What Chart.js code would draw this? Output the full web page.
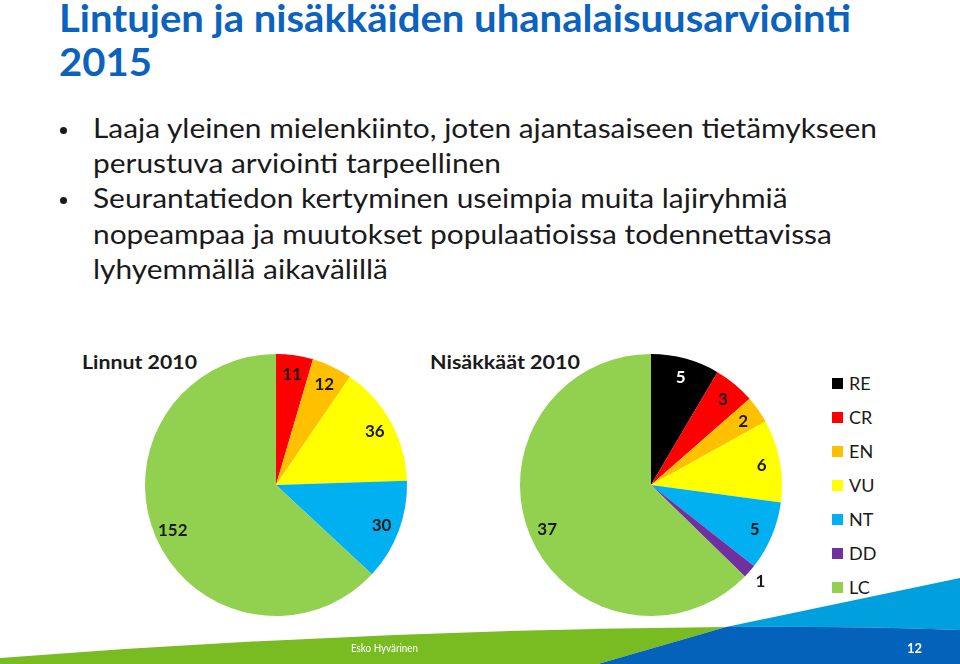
<!DOCTYPE html>
<html lang="fi">
<head>
<meta charset="utf-8">
<title>Lintujen ja nisäkkäiden uhanalaisuusarviointi 2015</title>
<script src="https://cdn.jsdelivr.net/npm/chart.js@4.4.1/dist/chart.umd.min.js"></script>
<style>
  html, body { margin: 0; padding: 0; background: #ffffff; }
  body { width: 960px; height: 664px; position: relative; overflow: hidden; font-family: Lato, "Open Sans", sans-serif; }
  .abs { position: absolute; white-space: nowrap; line-height: 1; }
  .fit { display: inline-block; transform-origin: 0 0; }
  .title { color: #0b63bd; font-weight: 700; font-size: 38px; left: 59px; }
  .bullet-line { color: #1a1a1a; font-size: 27px; left: 93px; }
  .dot { position: absolute; width: 7px; height: 7px; border-radius: 50%; background: #1a1a1a; left: 60px; }
  .pie-title { color: #1a1a1a; font-weight: 700; font-size: 18px; top: 353px; }
  canvas { position: absolute; z-index: 2; }
  #footer { position: absolute; left: 0; top: 0; z-index: 1; }
  #legend { position: absolute; left: 832px; top: 366px; z-index: 3; }
  .leg-row { height: 34px; display: flex; align-items: center; font-size: 18px; color: #1a1a1a; }
  .leg-box { width: 11px; height: 11px; margin-right: 6px; }
  .foot-text { color: #ffffff; z-index: 3; }
</style>
</head>
<body>

<svg id="footer" width="960" height="664" viewBox="0 0 960 664">
  <path d="M0,658 Q360,630 726,627 L598,664 L0,664 Z" fill="#79bc22"/>
  <path d="M726,627 L960,578 L960,630 Q850,626 726,627 Z" fill="#00a0df"/>
  <path d="M598,664 L726,627 Q850,626 960,630 L960,664 Z" fill="#0562bb"/>
</svg>

<div class="abs title" style="top:-2px"><span class="fit" id="t1">Lintujen ja nisäkkäiden uhanalaisuusarviointi</span></div>
<div class="abs title" style="top:42px"><span class="fit" id="t2">2015</span></div>

<div class="dot" style="top:127px"></div>
<div class="dot" style="top:197px"></div>
<div class="abs bullet-line" style="top:114px"><span class="fit bl">Laaja yleinen mielenkiinto, joten ajantasaiseen tietämykseen</span></div>
<div class="abs bullet-line" style="top:149px"><span class="fit bl">perustuva arviointi tarpeellinen</span></div>
<div class="abs bullet-line" style="top:184px"><span class="fit bl">Seurantatiedon kertyminen useimpia muita lajiryhmiä</span></div>
<div class="abs bullet-line" style="top:220px"><span class="fit bl">nopeampaa ja muutokset populaatioissa todennettavissa</span></div>
<div class="abs bullet-line" style="top:255px"><span class="fit bl">lyhyemmällä aikavälillä</span></div>

<div class="abs pie-title" style="left:82px"><span class="fit" id="pt1"></span></div>
<div class="abs pie-title" style="left:430px"><span class="fit" id="pt2"></span></div>

<canvas id="linnutChart" width="340" height="340" style="left:106px; top:315px"></canvas>
<canvas id="nisakkaatChart" width="340" height="340" style="left:481px; top:315px"></canvas>

<div id="legend"></div>

<div class="abs foot-text" style="left:351px; top:642px; font-size:12px"><span class="fit" id="author">Esko Hyvärinen</span></div>
<div class="abs foot-text" style="left:907px; top:642px; font-size:13px; font-weight:700">12</div>

<script>
// luokat ja värit (IUCN)
const luokat = ['RE', 'CR', 'EN', 'VU', 'NT', 'DD', 'LC'];
const varit  = ['#000000', '#ff0000', '#ffc000', '#ffff00', '#00b0f0', '#7030a0', '#92d050'];

// lajimäärät 2010
const linnut    = [0, 11, 12, 36, 30, 0, 152];
const nisakkaat = [5, 3, 2, 6, 5, 1, 37];

const otsikot = ['Linnut 2010', 'Nisäkkäät 2010'];

function fitWidth(el, target) {
    const w = el.getBoundingClientRect().width;
    if (w > 0) el.style.transform = 'scaleX(' + (target / w) + ')';
    return target / w;
}

document.getElementById('pt1').textContent = otsikot[0];
document.getElementById('pt2').textContent = otsikot[1];

// sovita tekstit leveyteen (Calibri korvataan Latolla)
const titleScale = fitWidth(document.getElementById('t1'), 792);
document.getElementById('t2').style.transform = 'scaleX(' + titleScale + ')';
const bl = document.querySelectorAll('.bl');
const bulletScale = fitWidth(bl[0], 784);
bl.forEach(function (el, i) { if (i > 0) el.style.transform = 'scaleX(' + bulletScale + ')'; });
fitWidth(document.getElementById('pt1'), 115);
fitWidth(document.getElementById('pt2'), 150);
fitWidth(document.getElementById('author'), 67);

// selite
const legend = document.getElementById('legend');
luokat.forEach(function (l, i) {
    const row = document.createElement('div');
    row.className = 'leg-row';
    const box = document.createElement('span');
    box.className = 'leg-box';
    box.style.background = varit[i];
    const txt = document.createElement('span');
    txt.textContent = l;
    row.appendChild(box);
    row.appendChild(txt);
    legend.appendChild(row);
});

// arvot sektorien päälle, pienet ulkopuolelle
const sliceLabels = {
    id: 'sliceLabels',
    afterDatasetsDraw(chart) {
        const ctx = chart.ctx;
        const ds = chart.data.datasets[0];
        const meta = chart.getDatasetMeta(0);
        const total = ds.data.reduce(function (a, b) { return a + b; }, 0);
        ctx.save();
        ctx.font = 'bold 17px Lato';
        ctx.textAlign = 'center';
        ctx.textBaseline = 'middle';
        meta.data.forEach(function (arc, i) {
            const v = ds.data[i];
            if (!v) return;
            const p = arc.getProps(['x', 'y', 'startAngle', 'endAngle', 'outerRadius'], true);
            const mid = (p.startAngle + p.endAngle) / 2;
            const r = (v / total < 0.03) ? p.outerRadius * 1.11 : p.outerRadius * 0.86;
            ctx.fillStyle = ds.backgroundColor[i] === '#000000' ? '#ffffff' : '#1a1a1a';
            ctx.fillText(String(v), p.x + Math.cos(mid) * r, p.y + Math.sin(mid) * r + 1);
        });
        ctx.restore();
    }
};

function teePiirakka(id, arvot) {
    const ctx = document.getElementById(id).getContext('2d');
    return new Chart(ctx, {
        type: 'pie',
        data: {
            labels: luokat,
            datasets: [{
                data: arvot,
                backgroundColor: varit,
                borderWidth: 0,
                radius: 131
            }]
        },
        options: {
            responsive: false,
            animation: false,
            layout: { padding: 0 },
            plugins: {
                legend: { display: false },
                tooltip: { enabled: false }
            }
        },
        plugins: [sliceLabels]
    });
}

teePiirakka('linnutChart', linnut);
teePiirakka('nisakkaatChart', nisakkaat);
</script>
</body>
</html>
